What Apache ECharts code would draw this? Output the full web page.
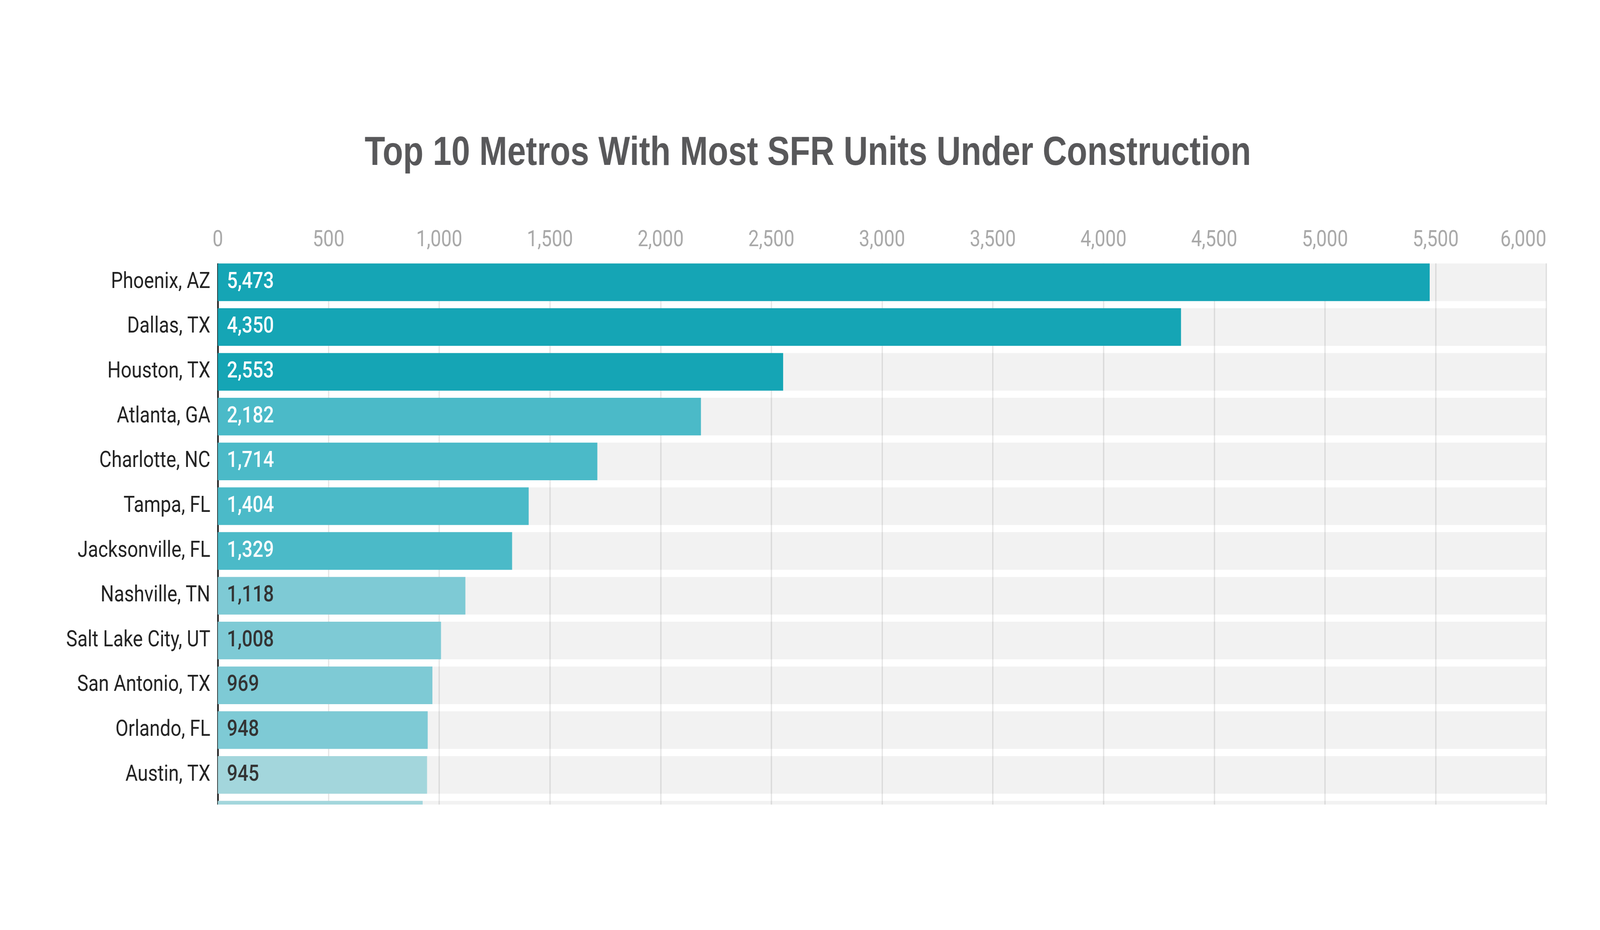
<!DOCTYPE html>
<html>
<head>
<meta charset="utf-8">
<title>Top 10 Metros With Most SFR Units Under Construction</title>
<script src="https://cdn.jsdelivr.net/npm/echarts@6/dist/echarts.min.js"></script>
<style>
  html, body { margin: 0; padding: 0; background: #fff; overflow: hidden; }
  #chart { width: 4922px; height: 2380px; transform-origin: 0 0; }
</style>
</head>
<body>
<div id="chart"></div>
<script>
// metros, top to bottom (last one is cut off at the bottom of the original)
var metros = ['Phoenix, AZ', 'Dallas, TX', 'Houston, TX', 'Atlanta, GA', 'Charlotte, NC',
    'Tampa, FL', 'Jacksonville, FL', 'Nashville, TN', 'Salt Lake City, UT',
    'San Antonio, TX', 'Orlando, FL', 'Austin, TX', ''];
var units = [5473, 4350, 2553, 2182, 1714, 1404, 1329, 1118, 1008, 969, 948, 945, 925];
// colour tier of each bar (0 = darkest)
var tiers = [0, 0, 0, 1, 1, 1, 1, 2, 2, 2, 2, 3, 3];
var axisTicks = [0, 500, 1000, 1500, 2000, 2500, 3000, 3500, 4000, 4500, 5000, 5500, 6000];

var tierColors = ['#15a5b5', '#4bbac8', '#7ecad5', '#a3d6dc'];
var tierLabelColors = ['#ffffff', '#ffffff', '#333333', '#333333'];

function fmt(v) {
    return Number(v).toLocaleString('en-US');
}

// the chart is laid out for 4922px; squeeze it if the window is narrower
var oDiv = document.getElementById('chart');
var nScale = window.innerWidth / 4922;
if (nScale < 1) {
    oDiv.style.transform = 'scaleX(' + nScale + ')';
}

var chart = echarts.init(oDiv);

var barData = units.map(function (v, i) {
    return {
        value: v,
        itemStyle: { color: tierColors[tiers[i]] },
        label: { color: tierLabelColors[tiers[i]] }
    };
});

var option = {
    backgroundColor: '#ffffff',
    animation: false,
    title: {
        text: 'Top 10 Metros With Most SFR Units Under Construction',
        left: 2480,
        top: 337,
        textAlign: 'center',
        textStyle: {
            fontFamily: 'Liberation Sans',
            fontWeight: 'bold',
            fontSize: 103,
            color: '#58585a'
        }
    },
    grid: {
        left: 670,
        right: 165,
        top: 665,
        height: 1490,
        containLabel: false
    },
    xAxis: {
        type: 'value',
        position: 'top',
        min: axisTicks[0],
        max: axisTicks[axisTicks.length - 1],
        interval: axisTicks[1] - axisTicks[0],
        axisLine: { show: false },
        axisTick: { show: false },
        axisLabel: {
            fontFamily: 'Roboto',
            fontSize: 58,
            color: '#a8a8a8',
            margin: 21,
            alignMaxLabel: 'right',
            formatter: function (v) { return fmt(v); }
        },
        splitLine: {
            show: true,
            lineStyle: { color: '#e6e6e6', width: 4 }
        }
    },
    yAxis: {
        type: 'category',
        inverse: true,
        data: metros,
        axisLine: { show: true, lineStyle: { color: '#1e1e1e', width: 5 } },
        axisTick: { show: false },
        axisLabel: {
            fontFamily: 'Roboto',
            fontSize: 58,
            color: '#222222',
            margin: 23
        },
        splitLine: { show: false }
    },
    series: [{
        type: 'bar',
        data: barData,
        barCategoryGap: '16%',
        showBackground: true,
        backgroundStyle: { color: 'rgba(0,0,0,0.05)' },
        label: {
            show: true,
            position: 'insideLeft',
            distance: 28,
            fontFamily: 'Roboto',
            fontSize: 58,
            fontWeight: 500,
            formatter: function (p) { return fmt(p.value); }
        }
    }],
    graphic: [
        // the original plot is cropped at the top of the first bar
        { type: 'rect', z: 100, shape: { x: 600, y: 655, width: 4322, height: 19 }, style: { fill: '#ffffff' } },
        // and just below the start of the 13th bar
        { type: 'rect', z: 100, shape: { x: 0, y: 2059, width: 4922, height: 321 }, style: { fill: '#ffffff' } }
    ]
};

chart.setOption(option);
</script>
</body>
</html>
